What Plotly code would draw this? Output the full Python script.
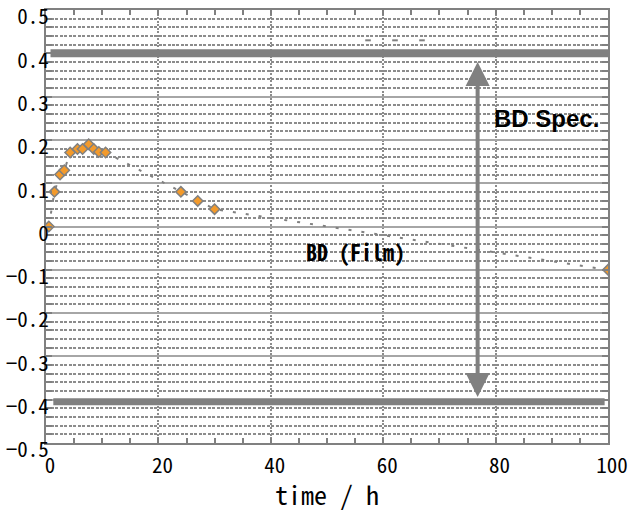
import plotly.graph_objects as go

# BD measurement over time
time_h = [0.5, 1.5, 2.5, 3.25, 4.3, 5.6, 6.5, 7.6, 8.5, 9.4, 10.6, 24.0, 27.0, 30.0, 100.0]
bd_film = [0.0, 0.08, 0.12, 0.13, 0.171, 0.179, 0.179, 0.19, 0.179, 0.172, 0.171, 0.08, 0.059, 0.04, -0.1]

# short stray dashes near the top
stray_x = [57.3, 62.1, 66.9]
stray_y = [0.43, 0.43, 0.43]

# specification limits
spec_upper_x = [0.8, 100.0]
spec_upper_y = [0.4, 0.4]
spec_lower_x = [1.3, 99.4]
spec_lower_y = [-0.405, -0.405]
arrow_x = 76.8
arrow_top = 0.38
arrow_bottom = -0.397

y_ticks = [0.5, 0.4, 0.3, 0.2, 0.1, 0.0, -0.1, -0.2, -0.3, -0.4, -0.5]
y_ticktext = ["0.5", "0.4", "0.3", "0.2", "0.1", "0",
              "−0.1", "−0.2", "−0.3", "−0.4", "−0.5"]
x_ticks = [0, 20, 40, 60, 80, 100]

GREY = "#808080"
MONO = "Noto Sans Mono CJK JP, Noto Sans CJK JP, DejaVu Sans Mono, monospace"

fig = go.Figure()

fig.add_trace(go.Scatter(x=spec_upper_x, y=spec_upper_y, mode="lines",
                         line=dict(color=GREY, width=8), hoverinfo="skip"))
fig.add_trace(go.Scatter(x=spec_lower_x, y=spec_lower_y, mode="lines",
                         line=dict(color=GREY, width=7), hoverinfo="skip"))

fig.add_trace(go.Scatter(x=stray_x, y=stray_y, mode="markers",
                         marker=dict(symbol="line-ew", size=4,
                                     line=dict(color=GREY, width=2))))

fig.add_trace(go.Scatter(
    x=time_h, y=bd_film, mode="lines+markers",
    line=dict(color=GREY, width=2, dash="3px,10px"),
    marker=dict(symbol="diamond", size=8, color="#F39A2B",
                line=dict(color=GREY, width=1.5)),
))

# double-headed arrow spanning the spec window
fig.add_annotation(x=arrow_x, y=arrow_top, ax=arrow_x, ay=arrow_bottom,
                   xref="x", yref="y", axref="x", ayref="y",
                   showarrow=True, arrowhead=2, startarrowhead=2,
                   arrowside="end+start", arrowwidth=4, arrowsize=1.2,
                   startarrowsize=1.2, arrowcolor=GREY, text="")

fig.add_annotation(x=546, y=118, xref="paper", yref="paper", text="BD Spec.",
                   showarrow=False, xanchor="center", yanchor="middle",
                   font=dict(family="Liberation Sans, Arial", size=24, color="black",
                             weight="bold"))
fig.add_annotation(x=355, y=251, xref="paper", yref="paper", text="BD (Film)",
                   showarrow=False, xanchor="center", yanchor="middle",
                   font=dict(family=MONO, size=22, color="black", weight="bold"))

fig.update_layout(
    width=635, height=512,
    margin=dict(l=46, r=27, t=10, b=69),
    paper_bgcolor="white", plot_bgcolor="white",
    showlegend=False,
    xaxis=dict(
        range=[0, 100], tickmode="array", tickvals=x_ticks, automargin=False,
        ticks="inside", ticklen=5, tickwidth=2, tickcolor=GREY,
        showline=True, linecolor=GREY, linewidth=2, mirror="allticks",
        showgrid=True, gridcolor="#8c8c8c", gridwidth=2, griddash="2px,1.5px",
        zeroline=False,
        minor=dict(dtick=5, tick0=0, ticks="inside", ticklen=5, tickwidth=2,
                   tickcolor=GREY, showgrid=False),
        tickfont=dict(family=MONO, size=21, color="black"),
        ticklabelshift=4, ticklabelstandoff=3,
        title=dict(text="time / h", font=dict(family=MONO, size=26, color="black"),
                   standoff=8),
    ),
    yaxis=dict(
        range=[-0.5, 0.5], tickmode="array", tickvals=y_ticks, ticktext=y_ticktext,
        automargin=False,
        ticks="inside", ticklen=6, tickwidth=2, tickcolor=GREY,
        showline=True, linecolor=GREY, linewidth=2, mirror="allticks",
        showgrid=True, gridcolor="#a6a6a6", gridwidth=2,
        zeroline=False,
        minor=dict(dtick=0.02, tick0=0, ticks="inside", ticklen=6, tickwidth=2,
                   tickcolor=GREY, showgrid=True, gridcolor="#8c8c8c",
                   gridwidth=1.5, griddash="3px,1.5px"),
        tickfont=dict(family=MONO, size=21, color="black"),
        ticklabelshift=7, ticklabelstandoff=-9,
    ),
)

# annotation positions given in pixels -> convert to paper coordinates
W, H = 635, 512
L, R, T, B = 46, 27, 10, 69
for ann in fig.layout.annotations:
    if ann.xref == "paper":
        ann.x = (ann.x - L) / (W - L - R)
        ann.y = 1 - (ann.y - T) / (H - T - B)

fig.write_html("out.html")
